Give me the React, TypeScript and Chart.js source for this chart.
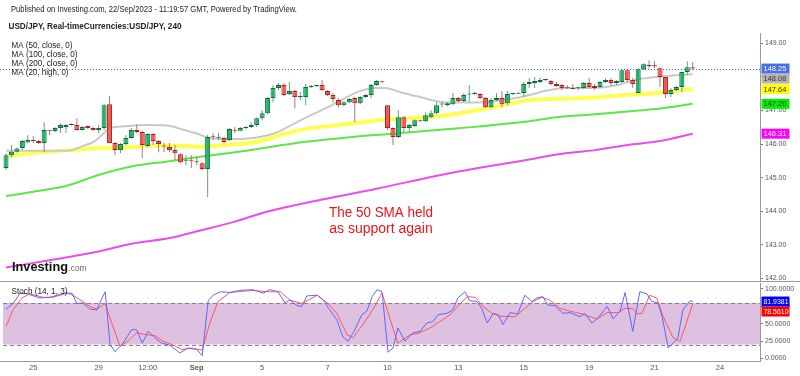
import React, { useEffect, useRef } from "react";
import { Chart, registerables } from "chart.js";

Chart.register(...registerables);

const FONT = "'Liberation Sans', Arial, sans-serif";
Chart.defaults.font.family = FONT;

// ---------- DATA ----------
const opens = [145.29,145.67,145.77,145.88,146.05,146.10,146.09,146.03,146.40,146.39,
146.48,146.51,146.57,146.57,146.42,146.54,146.48,146.42,146.48,147.19,
146.03,145.82,146.00,146.18,146.42,146.36,145.94,146.30,146.09,145.96,
145.91,145.82,145.70,145.50,145.53,145.49,145.43,145.26,146.21,146.19,
146.18,146.12,146.42,146.40,146.48,146.51,146.57,146.77,146.92,147.37,
147.67,147.76,147.49,147.58,147.40,147.40,147.70,147.73,147.76,147.58,
147.46,147.31,147.16,147.25,147.37,147.22,147.40,147.46,147.76,147.86,
147.16,146.48,146.21,146.80,146.48,146.54,146.69,146.68,146.80,146.92,
147.18,147.16,147.19,147.37,147.28,147.48,147.49,147.49,147.37,147.10,
147.31,147.37,147.22,147.49,147.50,147.52,147.79,147.82,147.85,147.91,
147.88,147.79,147.76,147.67,147.67,147.66,147.67,147.82,147.73,147.70,
147.85,147.91,147.82,147.85,148.20,147.91,147.52,148.23,148.36,148.35,
148.26,148.00,147.49,147.61,147.70,148.15,148.29];
const highs = [145.73,145.97,145.90,146.12,146.27,146.24,146.12,146.65,146.42,146.50,
146.62,146.59,146.62,146.77,146.54,146.55,146.50,146.57,147.19,147.43,
146.06,146.03,146.27,146.48,146.59,146.40,146.33,146.33,146.12,146.03,
146.03,145.97,145.73,145.67,145.67,145.61,145.46,146.27,146.33,146.33,
146.21,146.48,146.51,146.51,146.54,146.65,146.80,147.01,147.40,147.76,
147.82,147.82,147.85,147.61,147.55,147.79,147.76,147.76,147.91,147.61,
147.52,147.37,147.28,147.37,147.40,147.43,147.49,147.79,147.91,147.88,
147.16,146.50,147.01,146.83,146.60,146.74,146.71,146.95,147.01,147.25,
147.25,147.25,147.52,147.40,147.52,147.76,147.55,147.52,147.40,147.37,
147.52,147.58,147.58,147.52,147.55,147.85,147.97,148.00,147.97,147.94,
147.91,147.85,147.79,147.76,147.79,147.70,147.85,147.97,147.79,147.88,
147.97,147.97,147.91,148.23,148.23,147.97,148.26,148.41,148.50,148.47,
148.29,148.00,147.67,147.73,148.15,148.47,148.44];
const lows = [145.23,145.59,145.74,145.82,146.03,146.03,146.00,145.76,146.27,146.36,
146.33,146.33,146.55,146.40,146.40,146.45,146.40,146.33,146.42,146.03,
145.67,145.73,145.97,146.16,146.33,145.58,145.91,145.97,145.76,145.76,
145.76,145.52,145.43,145.37,145.29,145.37,145.23,144.42,146.12,146.12,
146.03,146.09,146.33,146.39,146.45,146.48,146.51,146.71,146.89,147.25,
147.61,147.43,147.46,147.07,147.31,147.16,147.67,147.70,147.58,147.43,
147.25,147.10,147.13,147.22,146.65,147.19,147.37,147.37,147.73,147.82,
146.42,145.97,146.18,146.36,146.36,146.51,146.66,146.65,146.77,146.89,
147.10,147.13,147.16,147.25,147.25,147.25,147.46,147.34,147.07,147.07,
147.28,147.10,147.16,147.46,147.49,147.40,147.67,147.67,147.82,147.88,
147.76,147.70,147.61,147.64,147.64,147.61,147.64,147.67,147.61,147.67,
147.82,147.73,147.76,147.82,147.85,147.67,147.52,148.20,148.26,148.26,
147.70,147.37,147.40,147.58,147.55,148.06,148.20];
const closes = [145.67,145.77,145.87,146.09,146.12,146.09,146.03,146.42,146.38,146.48,
146.57,146.57,146.59,146.42,146.51,146.48,146.42,146.48,147.16,146.03,
145.82,146.00,146.18,146.42,146.36,145.97,146.30,146.09,146.00,145.93,
145.82,145.73,145.46,145.52,145.50,145.46,145.26,146.21,146.20,146.22,
146.06,146.45,146.40,146.48,146.51,146.57,146.77,146.92,147.37,147.67,
147.76,147.46,147.58,147.40,147.41,147.70,147.73,147.73,147.61,147.46,
147.34,147.16,147.25,147.34,147.22,147.40,147.46,147.76,147.88,147.84,
146.48,146.21,146.80,146.48,146.57,146.71,146.68,146.86,146.92,147.16,
147.19,147.22,147.37,147.28,147.46,147.49,147.49,147.37,147.10,147.31,
147.37,147.19,147.49,147.49,147.52,147.79,147.85,147.88,147.91,147.92,
147.79,147.73,147.67,147.66,147.64,147.67,147.82,147.70,147.67,147.85,
147.91,147.82,147.88,148.20,147.91,147.79,148.23,148.38,148.32,148.31,
148.00,147.49,147.61,147.70,148.15,148.29,148.25];

// MA(20, high) – gray
const ma20X = [0,11.2,14.1,16.3,17.8,19.1,20.9,26.1,30.1,31.9,34.7,37.4,40.2,43.9,46.6,49.4,53.0,56.7,59.8,62.2,65.0,67.7,69.5,72.3,76.0,80.2,87.0,92.5,96.1,98.9,102.6,107.5,112.3,115.4,117.8,120.9,123.7,126];
const ma20 = [145.80,145.80,145.94,146.09,146.30,146.48,146.52,146.57,146.54,146.46,146.33,146.18,146.15,146.16,146.21,146.33,146.62,146.92,147.16,147.37,147.58,147.67,147.67,147.55,147.40,147.25,147.24,147.34,147.46,147.58,147.67,147.67,147.76,147.91,147.97,148.03,148.06,148.08];
// MA(50, close) – yellow
const ma50X = [0,5.0,11.7,17.2,23.3,26.4,31.9,35.6,40.2,46.2,51.2,55.4,64.0,68.1,74.1,80.9,89.4,96.1,101.3,107.5,113.6,119.6,122.8,126];
const ma50 = [145.64,145.73,145.82,145.88,145.91,145.95,145.95,145.92,145.97,146.07,146.31,146.46,146.62,146.71,146.77,146.86,147.10,147.31,147.35,147.38,147.46,147.52,147.58,147.64];
// MA(100, close) – green
const ma100X = [0,5,11,17,23,30,36,43,49,55,64,71,83,96,101,108,114,120,126];
const ma100 = [144.45,144.58,144.75,145.08,145.33,145.49,145.63,145.78,145.93,146.07,146.22,146.31,146.47,146.68,146.80,146.89,146.97,147.06,147.20];
// MA(200, close) – magenta
const ma200X = [0,8,17,23,30,36,42,48,68,83,96,101,108,114,120,126];
const ma200 = [142.32,142.54,142.80,143.03,143.20,143.44,143.69,143.99,144.67,145.18,145.54,145.69,145.82,145.97,146.09,146.31];

// Stoch (14,1,3)
const stochKX = [0,1.3,2.6,3.9,6.2,8.1,9.4,10.8,12.1,13.0,14.1,15.4,16.7,17.2,18.2,19.1,20.0,21.3,23.1,24.0,25.0,26.1,27.3,28.6,30.1,31.9,33.4,35.0,36.0,37.1,38.0,39.3,41.1,42.9,45.3,47.2,48.4,49.9,51.2,52.1,53.4,54.3,55.2,57.1,58.2,59.4,60.7,61.8,62.8,64.0,65.3,66.2,67.2,68.1,69.0,70.1,71.0,71.9,73.2,74.7,76.0,77.2,78.3,79.3,80.9,82.0,82.9,84.2,85.1,86.4,87.3,88.3,89.4,90.3,91.2,92.5,93.9,95.2,96.5,97.4,98.5,99.4,100.7,102.2,103.5,105.3,106.2,107.5,108.6,110.3,111.4,112.7,113.6,115.0,116.3,117.6,118.5,119.6,120.4,121.5,122.4,123.3,124.2,125.5,126];
const stochK = [71,79,94,93,87,88,91,94,94,79,80,71,70,80,96,20,10,20,42,41,22,39,30,22,19,8,15,13,4,83,91,96,95,98,99,94,99,96,80,84,76,75,90,91,84,70,56,31,25,41,63,68,89,99,96,9,15,44,25,37,39,51,53,63,65,70,87,96,83,82,72,51,65,63,49,66,64,91,82,87,89,77,76,65,66,60,65,51,58,75,57,68,95,39,96,93,82,80,60,15,22,30,70,83,81.9381];
const stochDX = [0,1.3,2.9,4.4,6.8,8.6,11.2,12.3,14.1,15.4,16.7,18.2,19.4,20.9,22.4,24.0,25.9,27.3,28.8,30.5,32.3,34.1,36.0,37.4,38.9,41.1,45.3,47.9,50.3,52.1,54.3,57.1,59.1,60.7,62.6,63.7,65.5,67.3,69.0,70.5,71.9,74.1,75.6,77.8,79.6,81.5,82.9,84.6,86.1,87.5,89.2,90.6,93.4,94.9,96.7,98.3,99.8,101.7,103.5,105.3,107.2,108.4,110.3,112.3,113.6,115.0,115.8,116.7,118.1,119.4,120.6,122.4,123.7,126];
const stochD = [46,70,87,93,88,88,94,91,82,75,71,79,51,18,25,37,34,33,25,20,13,15,12,51,82,95,98,96,96,84,79,91,79,65,34,30,49,70,94,56,22,34,36,44,53,63,75,89,88,75,65,61,60,70,82,88,84,72,68,65,60,57,66,66,72,72,64,65,91,87,60,30,25,78.561];

const priceTicks = [142, 143, 144, 145, 146, 147, 148, 149];
const stochTicks = [0, 25, 50, 75, 100];
const stochBand = [20, 80];
const xTickIdx = [5, 17, 26, 35, 47, 59, 70, 83, 95, 107, 119, 131];
const xTickLabels = ["25", "29", "12:00", "Sep", "5", "7", "10", "13", "15", "19", "21", "24"];

const headerLine1 = "Published on Investing.com, 22/Sep/2023 - 11:19:57 GMT, Powered by TradingView.";
const headerLine2 = "USD/JPY, Real-timeCurrencies:USD/JPY, 240";
const legendLines = ["MA (50, close, 0)", "MA (100, close, 0)", "MA (200, close, 0)", "MA (20, high, 0)"];
const noteLines = ["The 50 SMA held", "as support again"];
const stochTitle = "Stoch (14, 1, 3)";

// ---------- STYLE ----------
const X_MIN = -0.55, X_MAX = 138.35;
const P_MIN = 141.92, P_MAX = 149.31;
const S_MIN = -3.6, S_MAX = 108.6;
const UP_FILL = "#22b46a", UP_EDGE = "#0e6a39", DN_FILL = "#f3594f", DN_EDGE = "#a3231d";
const UP_WICK = "#6e9a80", DN_WICK = "#a27a7a";
const C_MA20 = "#c9c9c9", C_MA50 = "rgba(255,255,0,0.68)", C_MA100 = "#5ce64a", C_MA200 = "#ea4eea";
const C_K = "#6464ff", C_D = "#ff5858";
const AXIS = "#9a9a9a", LABEL = "#555";

const isUp = (i: number) => closes[i] >= opens[i];
const pts = (xs: number[], ys: number[]) => xs.map((x, i) => ({ x, y: ys[i] }));

function drawTags(ctx: any, yScale: any, values: number[], bgs: string[], fgs: string[], digits: number, left: number) {
  const h = 10;
  let prevBottom = -Infinity;
  ctx.save();
  ctx.font = `7.5px ${FONT}`;
  ctx.textBaseline = "middle";
  ctx.textAlign = "left";
  values.forEach((v, k) => {
    let y = yScale.getPixelForValue(v);
    if (y - h / 2 < prevBottom) y = prevBottom + h / 2;
    prevBottom = y + h / 2;
    ctx.fillStyle = bgs[k];
    ctx.fillRect(left, y - h / 2, 28, h);
    ctx.fillStyle = fgs[k];
    ctx.fillText(v.toFixed(digits), left + 2, y + 0.5, 25);
  });
  ctx.restore();
}

const mainDecor = {
  id: "mainDecor",
  beforeDatasetsDraw(chart: any) {
    const { ctx, chartArea } = chart;
    const y = Math.round(chart.scales.y.getPixelForValue(closes[closes.length - 1])) + 0.5;
    ctx.save();
    ctx.strokeStyle = "#3c62dc";
    ctx.lineWidth = 1;
    ctx.setLineDash([1, 2]);
    ctx.beginPath();
    ctx.moveTo(0, y);
    ctx.lineTo(chartArea.right, y);
    ctx.stroke();
    ctx.restore();
  },
  afterDraw(chart: any) {
    const { ctx } = chart;
    ctx.save();
    ctx.textAlign = "left";
    ctx.textBaseline = "alphabetic";
    ctx.fillStyle = "#222";
    ctx.font = `9.5px ${FONT}`;
    ctx.fillText(headerLine1, 11, 12, 286);
    ctx.font = `bold 9.5px ${FONT}`;
    ctx.fillText(headerLine2, 8.5, 28.5, 173);
    ctx.font = `8.5px ${FONT}`;
    const lw = [61, 66, 66, 57];
    legendLines.forEach((t, k) => ctx.fillText(t, 11.5, 47.5 + k * 9, lw[k]));
    // note
    ctx.fillStyle = "#e8141c";
    ctx.font = `14px ${FONT}`;
    ctx.textAlign = "center";
    ctx.fillText(noteLines[0], 381, 217, 104);
    ctx.fillText(noteLines[1], 381, 233, 104);
    // logo
    ctx.textAlign = "left";
    ctx.fillStyle = "#111";
    ctx.font = `bold 13px ${FONT}`;
    ctx.fillText("Investing", 12, 271, 56);
    ctx.fillStyle = "#666";
    ctx.font = `9px ${FONT}`;
    ctx.fillText(".com", 68.5, 271, 18);
    // separator
    ctx.strokeStyle = AXIS;
    ctx.lineWidth = 1;
    ctx.beginPath();
    ctx.moveTo(0, 281.5);
    ctx.lineTo(800, 281.5);
    ctx.stroke();
    ctx.restore();
    drawTags(
      ctx, chart.scales.y,
      [closes[closes.length - 1], ma20[ma20.length - 1], ma50[ma50.length - 1], ma100[ma100.length - 1], ma200[ma200.length - 1]],
      ["#476fe6", "#b4b4b4", "#ffff00", "#00ee00", "#ff00ff"],
      ["#fff", "#333", "#333", "#333", "#fff"],
      2, chart.chartArea.right + 1.5
    );
  },
};

const stochDecor = {
  id: "stochDecor",
  beforeDatasetsDraw(chart: any) {
    const { ctx, chartArea } = chart;
    const ys = chart.scales.y;
    const yTop = ys.getPixelForValue(stochBand[1]);
    const yBot = ys.getPixelForValue(stochBand[0]);
    ctx.save();
    ctx.fillStyle = "#dec0e0";
    ctx.fillRect(chartArea.left, yTop, chartArea.right - chartArea.left, yBot - yTop);
    ctx.strokeStyle = "#8a808a";
    ctx.lineWidth = 1;
    ctx.setLineDash([4, 3]);
    [yTop, yBot].forEach((y) => {
      ctx.beginPath();
      ctx.moveTo(chartArea.left, Math.round(y) + 0.5);
      ctx.lineTo(chartArea.right, Math.round(y) + 0.5);
      ctx.stroke();
    });
    ctx.restore();
  },
  afterDraw(chart: any) {
    const { ctx, chartArea } = chart;
    const xs = chart.scales.x;
    ctx.save();
    ctx.fillStyle = "#222";
    ctx.font = `8.5px ${FONT}`;
    ctx.textAlign = "left";
    ctx.textBaseline = "alphabetic";
    ctx.fillText(stochTitle, 11.5, 12, 56);
    // bottom axis line
    ctx.strokeStyle = AXIS;
    ctx.lineWidth = 1;
    ctx.beginPath();
    ctx.moveTo(0, Math.round(chartArea.bottom) + 0.5);
    ctx.lineTo(chartArea.right, Math.round(chartArea.bottom) + 0.5);
    ctx.stroke();
    // x labels
    ctx.textAlign = "center";
    ctx.textBaseline = "middle";
    ctx.fillStyle = LABEL;
    xTickIdx.forEach((v, k) => {
      const lab = xTickLabels[k];
      ctx.font = lab === "Sep" ? `bold 7.5px ${FONT}` : `7.5px ${FONT}`;
      ctx.fillText(lab, xs.getPixelForValue(v), 86);
    });
    ctx.restore();
    drawTags(ctx, chart.scales.y, [stochK[stochK.length - 1], stochD[stochD.length - 1]], ["#0000ff", "#ff0000"], ["#fff", "#fff"], 4, chartArea.right + 1.5);
  },
};

function yAxis(min: number, max: number, ticks: number[], digits: number) {
  return {
    position: "right",
    min,
    max,
    afterBuildTicks: (s: any) => { s.ticks = ticks.map((value) => ({ value })); },
    afterFit: (s: any) => {
      s.width = 40;
      s.paddingTop = 0;
      s.paddingBottom = 0;
      s.paddingLeft = 0;
      s.paddingRight = 0;
    },
    ticks: { color: LABEL, font: { size: 7, family: FONT }, padding: 2, autoSkip: false, callback: (v: any) => Number(v).toFixed(digits) },
    grid: { display: true, drawOnChartArea: false, drawTicks: true, tickLength: 3, color: "#777" },
    border: { display: true, color: AXIS },
  };
}

function lineDs(xs: number[], ys: number[], color: string, width: number, order: number) {
  return {
    type: "line",
    data: pts(xs, ys),
    borderColor: color,
    borderWidth: width,
    pointRadius: 0,
    cubicInterpolationMode: "monotone",
    fill: false,
    order,
  };
}

export default function App() {
  const mainRef = useRef<HTMLCanvasElement>(null);
  const stochRef = useRef<HTMLCanvasElement>(null);

  useEffect(() => {
    const main = new Chart(mainRef.current as any, {
      type: "bar",
      data: {
        datasets: [
          lineDs(ma200X, ma200, C_MA200, 2, 6),
          lineDs(ma100X, ma100, C_MA100, 2, 5),
          lineDs(ma50X, ma50, C_MA50, 4, 4),
          lineDs(ma20X, ma20, C_MA20, 2, 3),
          {
            type: "bar",
            data: lows.map((l, i) => ({ x: i, y: [l, highs[i]] })),
            backgroundColor: (c: any) => (isUp(c.dataIndex) ? UP_WICK : DN_WICK),
            borderWidth: 0,
            inflateAmount: 0,
            grouped: false,
            barPercentage: 1,
            categoryPercentage: 1,
            maxBarThickness: 1,
            order: 2,
          },
          {
            type: "bar",
            data: opens.map((o, i) => ({ x: i, y: [o, closes[i]] })),
            backgroundColor: (c: any) => (isUp(c.dataIndex) ? UP_FILL : DN_FILL),
            borderColor: (c: any) => (isUp(c.dataIndex) ? UP_EDGE : DN_EDGE),
            borderWidth: 1,
            borderSkipped: false,
            inflateAmount: 0,
            minBarLength: 1,
            grouped: false,
            barPercentage: 1,
            categoryPercentage: 1,
            maxBarThickness: 5,
            order: 1,
          },
        ] as any,
      },
      options: {
        responsive: false,
        animation: false,
        devicePixelRatio: 1,
        events: [],
        layout: { padding: { left: 3, top: 33, right: 0, bottom: 1 } },
        plugins: { legend: { display: false }, tooltip: { enabled: false } },
        scales: {
          x: { type: "linear", min: X_MIN, max: X_MAX, display: false, offset: false },
          y: yAxis(P_MIN, P_MAX, priceTicks, 2),
        } as any,
      },
      plugins: [mainDecor],
    } as any);

    const stoch = new Chart(stochRef.current as any, {
      type: "line",
      data: {
        datasets: [
          { data: pts(stochDX, stochD), borderColor: C_D, borderWidth: 1, pointRadius: 0, fill: false, order: 2 },
          { data: pts(stochKX, stochK), borderColor: C_K, borderWidth: 1, pointRadius: 0, fill: false, order: 1 },
        ],
      },
      options: {
        responsive: false,
        animation: false,
        devicePixelRatio: 1,
        events: [],
        layout: { padding: { left: 3, top: 1, right: 0, bottom: 15 } },
        plugins: { legend: { display: false }, tooltip: { enabled: false } },
        scales: {
          x: { type: "linear", min: X_MIN, max: X_MAX, display: false, offset: false },
          y: yAxis(S_MIN, S_MAX, stochTicks, 4),
        } as any,
      },
      plugins: [stochDecor],
    } as any);

    return () => {
      main.destroy();
      stoch.destroy();
    };
  }, []);

  return (
    <div style={{ position: "absolute", left: 0, top: 0, width: 800, height: 376, background: "#fff", overflow: "hidden" }}>
      <canvas ref={mainRef} width={800} height={282} style={{ position: "absolute", left: 0, top: 0, width: 800, height: 282 }} />
      <canvas ref={stochRef} width={800} height={94} style={{ position: "absolute", left: 0, top: 282, width: 800, height: 94 }} />
    </div>
  );
}
